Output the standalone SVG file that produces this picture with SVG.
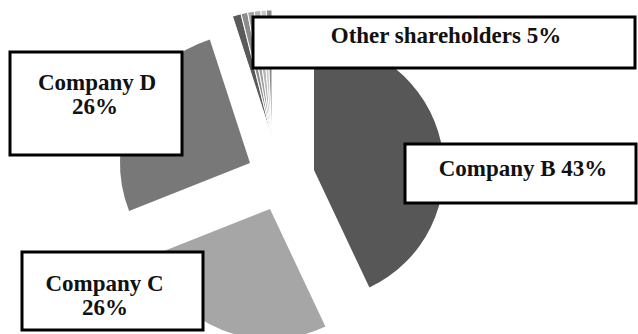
<svg xmlns="http://www.w3.org/2000/svg" width="638" height="334" viewBox="0 0 638 334">
<style>
.box{fill:#fff;stroke:#000;stroke-width:3}
.lbl{font-family:"Liberation Serif","Times New Roman",serif;font-weight:bold;font-size:23px;fill:#111;text-anchor:middle}
.sl{stroke:#fff;stroke-width:1}
</style>
<rect width="638" height="334" fill="#fff"/>
<g id="slices">
<path id="sliceB" d="M314,170 L314,40 A130,130 0 0,1 369.4,287.6 Z" fill="#575757"/>
<path id="sliceC" d="M270,209 L325.4,326.6 A130,130 0 0,1 149.1,256.9 Z" fill="#a6a6a6"/>
<path id="sliceD" d="M250,163 L129.1,210.9 A130,130 0 0,1 209.8,39.4 Z" fill="#787878"/>
<g id="sliceOther">
<path class="sl" d="M272,138 L232.45,16.26 A128,128 0 0,1 241.04,13.8 Z" fill="#5a5a5a"/>
<path class="sl" d="M272,138 L241.04,13.8 A128,128 0 0,1 247.58,12.35 Z" fill="#8c8c8c"/>
<path class="sl" d="M272,138 L247.58,12.35 A128,128 0 0,1 254.18,11.24 Z" fill="#a0a0a0"/>
<path class="sl" d="M272,138 L254.18,11.24 A128,128 0 0,1 260.84,10.49 Z" fill="#b4b4b4"/>
<path class="sl" d="M272,138 L260.84,10.49 A128,128 0 0,1 266.42,10.12 Z" fill="#c8c8c8"/>
<path class="sl" d="M272,138 L266.42,10.12 A128,128 0 0,1 272,10 Z" fill="#8a8a8a"/>
</g>
</g>
<g id="labelOther">
<rect class="box" x="253" y="17" width="382" height="51"/>
<text class="lbl" x="446" y="43">Other shareholders 5%</text>
</g>
<g id="labelD">
<rect class="box" x="10" y="52" width="172" height="103"/>
<text class="lbl" x="97" y="90">Company D</text>
<text class="lbl" x="95" y="114">26%</text>
</g>
<g id="labelB">
<rect class="box" x="405" y="144" width="231" height="59"/>
<text class="lbl" x="523" y="176">Company B 43%</text>
</g>
<g id="labelC">
<rect class="box" x="22" y="252" width="181" height="78"/>
<text class="lbl" x="104.5" y="291">Company C</text>
<text class="lbl" x="105" y="315">26%</text>
</g>
</svg>
